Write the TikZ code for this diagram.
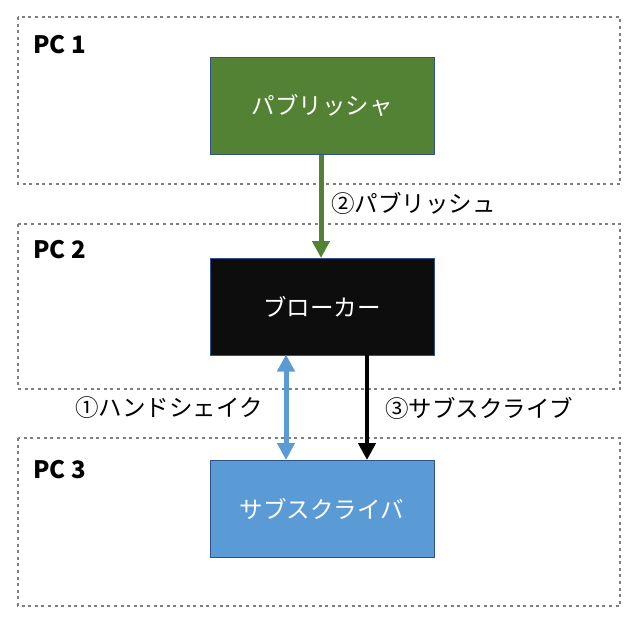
\documentclass[tikz,border=0pt]{standalone}
\usepackage{fontspec}
\setmainfont{Noto Sans CJK JP}
\usetikzlibrary{arrows.meta}
\definecolor{pubgreen}{HTML}{548235}
\definecolor{brkblack}{HTML}{0D0D0D}
\definecolor{subblue}{HTML}{5B9BD5}
\definecolor{boxedge}{HTML}{2F528F}
\definecolor{dotgray}{HTML}{7F7F7F}
\tikzset{
  pcbox/.style={draw=dotgray, line width=2.8pt, dash pattern=on 3pt off 3.6pt},
  rolebox/.style={draw=boxedge, line width=1pt, minimum width=224pt, minimum height=97pt, inner sep=0pt, text=white, font=\fontsize{23.5}{26}\selectfont},
  pclabel/.style={anchor=west, inner sep=0pt, font=\fontsize{24}{28}\selectfont\bfseries},
  msglabel/.style={anchor=west, inner sep=0pt, font=\fontsize{23.5}{26}\selectfont},
  tip/.style={-{Triangle[width=17pt,length=17pt]}},
}
\begin{document}
\begin{tikzpicture}[x=1pt,y=-1pt]
\useasboundingbox (0,0) rectangle (643,637);
% containers
\draw[pcbox] (18,17) rectangle (620,184);
\draw[pcbox] (18,224) rectangle (620,389);
\draw[pcbox] (18,438) rectangle (620,606);
\node[pclabel] (pc1) at (33,45) {PC 1};
\node[pclabel] (pc2) at (33,250) {PC 2};
\node[pclabel] (pc3) at (33,470) {PC 3};
% role boxes
\node[rolebox, fill=pubgreen] (pub) at (322,105.5) {パブリッシャ};
\node[rolebox, fill=brkblack] (brk) at (322,307) {ブローカー};
\node[rolebox, fill=subblue] (sub) at (322,509) {サブスクライバ};
% connectors
\draw[tip, draw=pubgreen, fill=pubgreen, line width=5pt] ([xshift=-1pt]pub.south) -- ([xshift=-1pt]brk.north);
\draw[{Triangle[width=17pt,length=17pt]}-{Triangle[width=17pt,length=17pt]}, draw=subblue, fill=subblue, line width=5pt] ([xshift=-36pt,yshift=1.5pt]brk.south) -- ([xshift=-36pt]sub.north);
\draw[tip, draw=black, fill=black, line width=4.5pt] ([xshift=45pt,yshift=1.5pt]brk.south) -- ([xshift=45pt]sub.north);
% labels
\node[msglabel] (l2) at (331,203) {②パブリッシュ};
\node[msglabel] (l1) at (75,408) {①ハンドシェイク};
\node[msglabel] (l3) at (385,408) {③サブスクライブ};
\end{tikzpicture}
\end{document}
